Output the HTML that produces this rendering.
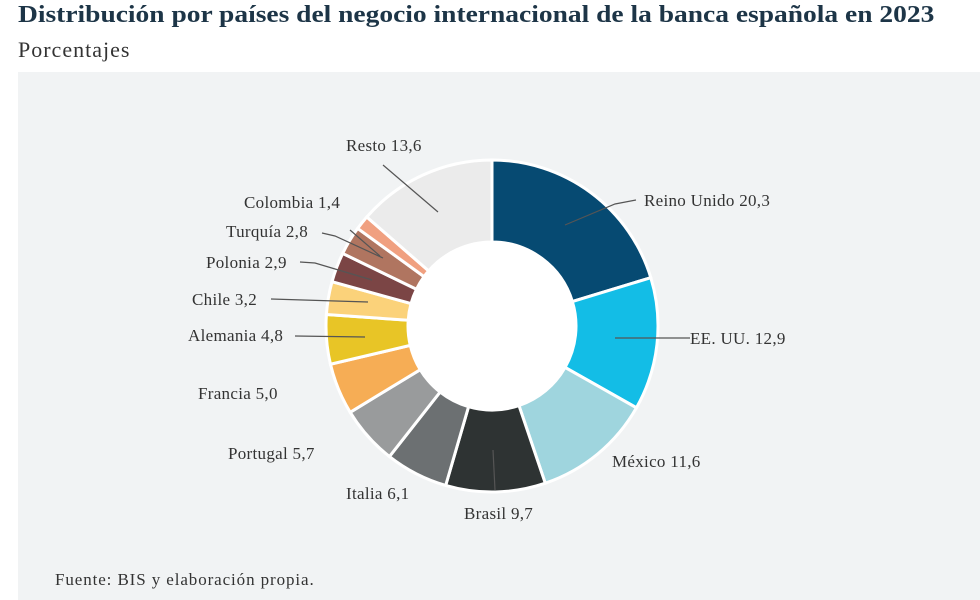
<!DOCTYPE html>
<html><head><meta charset="utf-8"><style>
body{margin:0;width:980px;height:600px;background:#fff;overflow:hidden;font-family:"Liberation Serif",serif;}
.t{position:absolute;left:18px;top:2px;font-size:24px;font-weight:bold;color:#1d3547;transform:scaleX(1.145);transform-origin:0 0;white-space:nowrap}
.s{position:absolute;left:18px;top:37px;font-size:22px;color:#333;letter-spacing:1px}
.p{position:absolute;left:18px;top:72px;width:962px;height:528px;background:#f1f3f4}
</style></head><body>
<div class="t">Distribución por países del negocio internacional de la banca española en 2023</div>
<div class="s">Porcentajes</div>
<div class="p"></div>
<svg id="c" width="980" height="600" style="position:absolute;left:0;top:0" font-family="Liberation Serif, serif" font-size="17" letter-spacing="0.3" fill="#333">
<g id="arcs"></g>
<g stroke="#555" stroke-width="1.2" fill="none">
<path d="M565 225 L615 204 L636 200"/>
<path d="M615 338 L690 338"/>
<path d="M493 450 L495 490"/>
<path d="M438 212 L383 165"/>
<path d="M350 230 L380 256"/>
<path d="M322 233 L335 236 L383 258"/>
<path d="M300 262 L315 263 L372 280"/>
<path d="M271 299 L368 302"/>
<path d="M295 336 L365 337"/>
</g>
<text x="346" y="151">Resto 13,6</text>
<text x="244" y="208">Colombia 1,4</text>
<text x="226" y="237">Turquía 2,8</text>
<text x="206" y="268">Polonia 2,9</text>
<text x="192" y="305">Chile  3,2</text>
<text x="188" y="341">Alemania 4,8</text>
<text x="198" y="399">Francia 5,0</text>
<text x="228" y="459">Portugal 5,7</text>
<text x="346" y="499">Italia 6,1</text>
<text x="464" y="519">Brasil 9,7</text>
<text x="612" y="467">México 11,6</text>
<text x="690" y="344">EE. UU. 12,9</text>
<text x="644" y="206">Reino Unido 20,3</text>
<text x="55" y="585" font-size="17" letter-spacing="0.9">Fuente: BIS y elaboración propia.</text>
</svg>
<script>
var d=[[20.3,"#064a72"],[12.9,"#13bde6"],[11.6,"#9fd5de"],[9.7,"#2e3333"],[6.1,"#6c7072"],[5.7,"#999b9c"],[5.0,"#f6ad55"],[4.8,"#e8c526"],[3.2,"#fbd27a"],[2.9,"#7b4545"],[2.8,"#b07560"],[1.4,"#f0a080"],[13.6,"#ebebeb"]];
var cx=492,cy=326,R=166,r=84,a=0,h="";
function pt(rad,ang){return [(cx+rad*Math.sin(ang)).toFixed(2),(cy-rad*Math.cos(ang)).toFixed(2)];}
d.forEach(function(x){var b=a+x[0]/100*2*Math.PI,l=(b-a)>Math.PI?1:0;
var p1=pt(R,a),p2=pt(R,b),p3=pt(r,b),p4=pt(r,a);
h+='<path d="M'+p1+' A'+R+' '+R+' 0 '+l+' 1 '+p2+' L'+p3+' A'+r+' '+r+' 0 '+l+' 0 '+p4+'Z" fill="'+x[1]+'" stroke="#fff" stroke-width="3"/>';a=b;});
h+='<circle cx="'+cx+'" cy="'+cy+'" r="'+(r-1)+'" fill="#fff"/>';
document.getElementById("arcs").innerHTML=h;
</script>
</body></html>
